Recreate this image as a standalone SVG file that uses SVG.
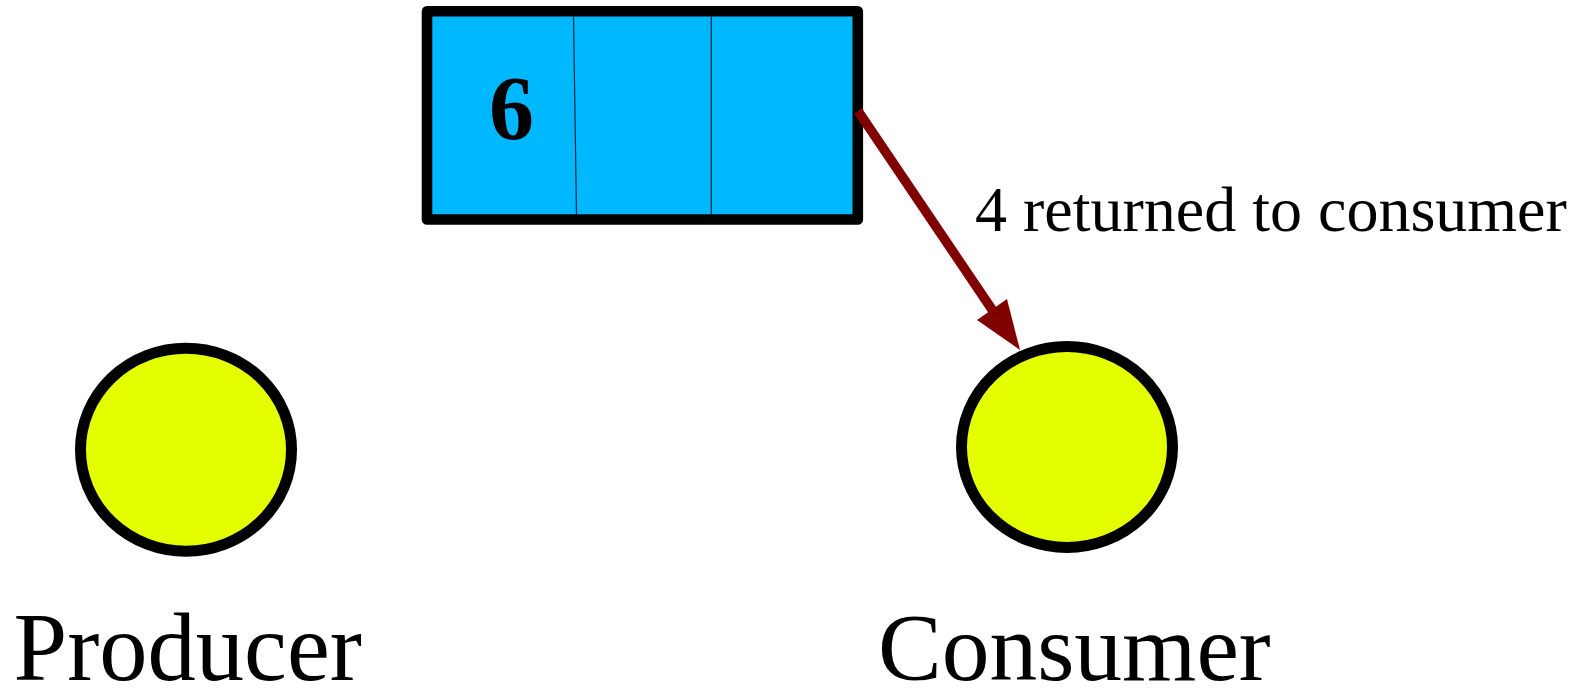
<svg xmlns="http://www.w3.org/2000/svg" width="1581" height="688" viewBox="0 0 1581 688">
<style>
.lbl{font-family:"Liberation Serif","Times New Roman",serif;fill:#000}
.node{fill:#E4FF00;stroke:#000;stroke-width:11}
</style>
<rect x="0" y="0" width="1581" height="688" fill="#fff"/>
<g id="buffer">
<rect x="427" y="11.3" width="430.8" height="208.2" fill="#00B8FF" stroke="#000" stroke-width="10.6" stroke-linejoin="round"/>
<line x1="573.5" y1="16.5" x2="576.5" y2="214" stroke="#002838" stroke-width="1.2"/>
<line x1="711.3" y1="16.5" x2="711.3" y2="214" stroke="#002838" stroke-width="1.2"/>
<text class="lbl" x="511.5" y="139" font-size="90" font-weight="bold" text-anchor="middle">6</text>
</g>
<g id="producer">
<ellipse class="node" cx="186" cy="449.7" rx="105.5" ry="101.5"/>
<text class="lbl" x="13.5" y="680" font-size="96.5">Producer</text>
</g>
<g id="consumer">
<ellipse class="node" cx="1067" cy="447" rx="105.5" ry="100.5"/>
<text class="lbl" x="878" y="680" font-size="95.5">Consumer</text>
</g>
<g id="connectors">
<line x1="858" y1="111" x2="993" y2="311" stroke="#800000" stroke-width="9.5"/>
<polygon points="1020,350 977,320 1007,299" fill="#800000"/>
<text class="lbl" x="975" y="231" font-size="64">4 returned to consumer</text>
</g>
</svg>
